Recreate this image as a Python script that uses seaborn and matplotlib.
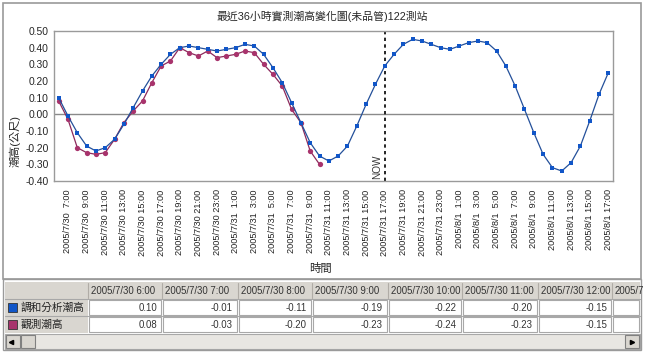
import numpy as np
import pandas as pd
import matplotlib
matplotlib.use("Agg")
import matplotlib.pyplot as plt
from matplotlib.patches import Rectangle
import seaborn as sns

# ---------------- data ----------------
title = "最近36小時實測潮高變化圖(未品管)122測站"
ylabel = "潮高(公尺)"
xlabel = "時間"
series_names = ["調和分析潮高", "觀測潮高"]
times = pd.date_range("2005-07-30 06:00", periods=60, freq="h")
harmonic = [0.10, -0.01, -0.11, -0.19, -0.22, -0.20, -0.15, -0.06, 0.04, 0.14,
            0.23, 0.30, 0.36, 0.40, 0.41, 0.40, 0.39, 0.38, 0.39, 0.40,
            0.42, 0.41, 0.36, 0.28, 0.19, 0.07, -0.05, -0.17, -0.25, -0.28,
            -0.25, -0.19, -0.07, 0.06, 0.18, 0.29, 0.36, 0.42, 0.45, 0.44,
            0.42, 0.40, 0.39, 0.41, 0.43, 0.44, 0.43, 0.38, 0.29, 0.17,
            0.03, -0.11, -0.24, -0.32, -0.34, -0.29, -0.19, -0.04, 0.12, 0.25]
observed = [0.08, -0.03, -0.20, -0.23, -0.24, -0.23, -0.15, -0.05, 0.02, 0.08,
            0.19, 0.29, 0.32, 0.40, 0.37, 0.35, 0.38, 0.34, 0.35, 0.36,
            0.38, 0.37, 0.30, 0.24, 0.17, 0.03, -0.05, -0.22, -0.30]
now_index = 35
y_ticks = [0.50, 0.40, 0.30, 0.20, 0.10, 0.00, -0.10, -0.20, -0.30, -0.40]
n_table_cols = 7

def fmt_time(t, pad=True):
    h = f"{t.hour:>2d}" if pad else f"{t.hour}"
    return f"{t.year}/{t.month}/{t.day} {h}:00"

idx = np.arange(len(times))
obs_full = np.array(observed + [np.nan] * (len(times) - len(observed)))
df = pd.DataFrame({"i": idx, "harm": harmonic, "obs": obs_full})

# ---------------- style ----------------
sns.set_style("white")
plt.rcParams["font.family"] = ["Liberation Sans", "Noto Sans CJK TC", "DejaVu Sans"]

W, H = 645, 352
fig = plt.figure(figsize=(W / 100, H / 100), dpi=100)

bg = fig.add_axes([0, 0, 1, 1])
bg.set_xlim(0, W)
bg.set_ylim(H, 0)
bg.axis("off")

gray = "#9a9a9a"
bg.add_patch(Rectangle((3, 3), 638, 276, fill=False, ec=gray, lw=1.2))

# chart axes
L, R, T, B = 54, 613, 31, 181
ax = fig.add_axes([L / W, 1 - B / H, (R - L) / W, (B - T) / H])
ax.set_facecolor("white")

blue_line = "#24509a"
blue_mark = "#1156c8"
red_line = "#8c2a5c"
red_mark = "#a8336c"

ax.axhline(0, color="#8a8a8a", lw=1, zorder=1)
sns.lineplot(data=df, x="i", y="obs", ax=ax, color=red_line, lw=0.9,
             marker="o", markersize=3.8, markerfacecolor=red_mark,
             markeredgewidth=0, zorder=3)
sns.lineplot(data=df, x="i", y="harm", ax=ax, color=blue_line, lw=0.9,
             marker="s", markersize=3.5, markerfacecolor=blue_mark,
             markeredgewidth=0, zorder=4)

ax.axvline(now_index, color="black", lw=1.2, ls=(0, (2, 2)), zorder=2)
ax.text(now_index - 0.85, -0.39, "NOW", rotation=90, ha="center", va="bottom",
        fontsize=7.2, color="#333333")

ax.set_xlim(-0.5, len(times) - 0.5)
ax.set_ylim(-0.40, 0.50)
ax.set_yticks(y_ticks)
ax.set_yticklabels([f"{v:.2f}" for v in y_ticks], fontsize=7.4)
tick_idx = idx[1::2]
ax.set_xticks(tick_idx)
ax.set_xticklabels([fmt_time(times[i]) for i in tick_idx], rotation=90,
                   fontsize=6.6, color="#222222")
ax.tick_params(axis="x", direction="out", length=3, width=0.8, color=gray, pad=3)
ax.tick_params(axis="y", length=0, pad=4)
for s in ax.spines.values():
    s.set_color(gray)
    s.set_linewidth(1)
ax.set_xlabel("")
ax.set_ylabel("")

fig.text(322 / W, 1 - 16 / H, title, ha="center", va="center", fontsize=7.8)
fig.text(15 / W, 1 - 141 / H, ylabel, ha="center", va="center", rotation=90,
         fontsize=8)
fig.text(321 / W, 1 - 268 / H, xlabel, ha="center", va="center", fontsize=8.2)

# ---------------- table ----------------
hdr_bg = "#d9d6d0"
grid = "#a8a8a8"
row_y = [282, 299, 316, 333]
col_x = [5, 88, 162, 238, 312, 388, 462, 538, 612, 640]
bg.add_patch(Rectangle((5, row_y[0]), 635, 17, fc=hdr_bg, ec="none"))
bg.add_patch(Rectangle((5, row_y[1]), 83, 34, fc=hdr_bg, ec="none"))
for r in range(2):
    for c in range(1, len(col_x) - 1):
        x0, x1 = col_x[c], col_x[c + 1]
        bg.add_patch(Rectangle((x0 + 1, row_y[r + 1] + 1), x1 - x0 - 2, 15,
                               fc="white", ec=grid, lw=0.8))
for c in range(1, len(col_x) - 1):
    bg.plot([col_x[c], col_x[c]], [row_y[0] + 1, row_y[0] + 16], color="#b0aca6", lw=0.8)
tfs = 6.9
for c in range(n_table_cols):
    bg.text(col_x[c + 1] + 3, row_y[0] + 9, fmt_time(times[c], pad=False),
            ha="left", va="center", fontsize=tfs, color="#333333")
    bg.text(col_x[c + 2] - 5, row_y[1] + 9, f"{harmonic[c]:.2f}",
            ha="right", va="center", fontsize=tfs, color="#333333")
    bg.text(col_x[c + 2] - 5, row_y[2] + 9, f"{observed[c]:.2f}",
            ha="right", va="center", fontsize=tfs, color="#333333")
bg.text(col_x[8] + 3, row_y[0] + 9, "2005/7", ha="left", va="center",
        fontsize=tfs, color="#333333", clip_on=True)
bg.add_patch(Rectangle((8, row_y[1] + 4), 9, 9, fc=blue_mark, ec="#333333", lw=0.6))
bg.add_patch(Rectangle((8, row_y[2] + 4), 9, 9, fc=red_mark, ec="#333333", lw=0.6))
bg.text(21, row_y[1] + 8.5, series_names[0], ha="left", va="center", fontsize=7.7,
        color="#222222")
bg.text(21, row_y[2] + 8.5, series_names[1], ha="left", va="center", fontsize=7.7,
        color="#222222")
bg.plot([5, 640], [row_y[1], row_y[1]], color=grid, lw=0.8)
bg.plot([5, 640], [row_y[2], row_y[2]], color=grid, lw=0.8)
# scrollbar
bg.add_patch(Rectangle((5, 334), 635, 15, fc="#e8e6e2", ec=grid, lw=0.8))
bg.add_patch(Rectangle((6, 335), 14, 13, fc="#d9d6d0", ec="#808080", lw=0.8))
bg.add_patch(Rectangle((21, 335), 14, 13, fc="#d9d6d0", ec="#808080", lw=0.8))
bg.add_patch(Rectangle((625, 335), 14, 13, fc="#d9d6d0", ec="#808080", lw=0.8))
bg.plot([11], [341.5], marker="<", color="black", markersize=3)
bg.plot([632], [341.5], marker=">", color="black", markersize=3)
bg.add_patch(Rectangle((3, 279), 638, 71, fill=False, ec=gray, lw=1))

fig.savefig("out.png", dpi=100)
